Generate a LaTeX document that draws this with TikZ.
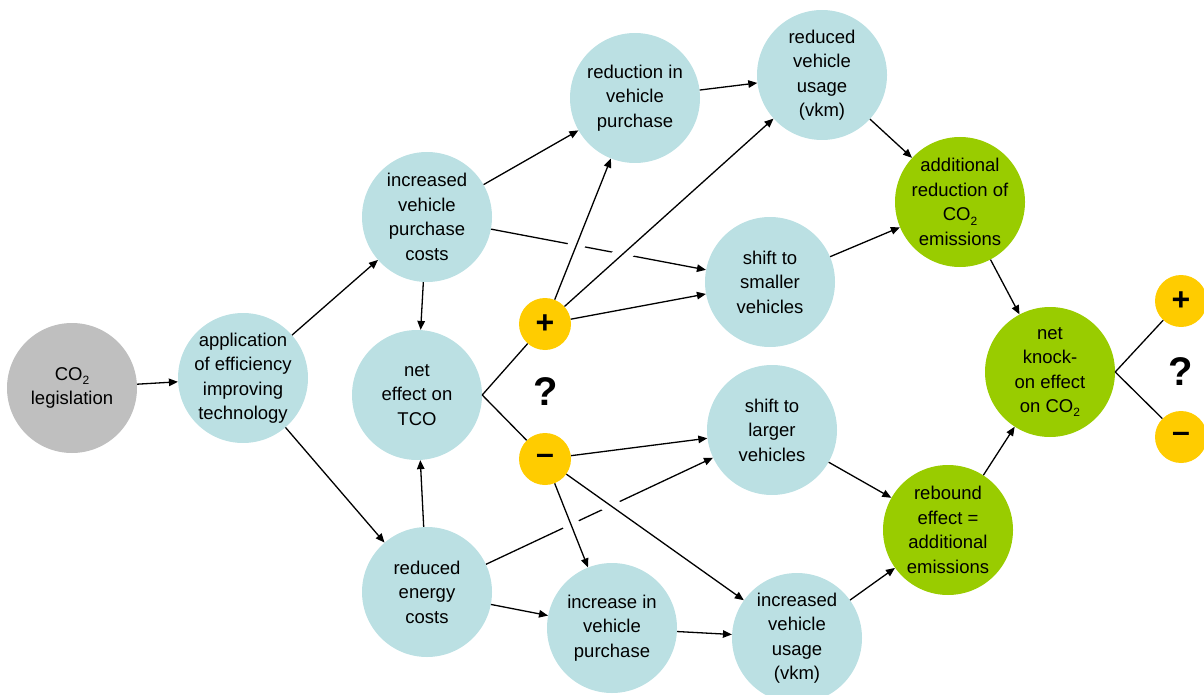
\documentclass[tikz,border=0pt]{standalone}
\usepackage{fontspec}
\setmainfont{Liberation Sans}
\usetikzlibrary{arrows.meta}
\definecolor{bubblue}{HTML}{BBE0E3}
\definecolor{bubgreen}{HTML}{99CC00}
\definecolor{bubgray}{HTML}{BFBFBF}
\definecolor{signyellow}{HTML}{FFCC00}
\newcommand{\cotwo}{CO\raisebox{-0.45ex}{\fontsize{12}{12}\selectfont 2}}
\begin{document}
\begin{tikzpicture}[x = 1pt, y = -1pt,
		bub/.style = {circle, minimum size = 130pt, inner sep = -20pt, align = center, font = \fontsize{18.5}{24.5}\selectfont},
		factor/.style = {bub, fill = bubblue},
		outcome/.style = {bub, fill = bubgreen},
		sign/.style = {circle, minimum size = 52pt, inner sep = 0pt, fill = signyellow, font = \fontsize{32}{32}\selectfont\bfseries},
		arr/.style = {-{Triangle[length = 9pt, width = 7.5pt]}, line width = 1.3pt},
		link/.style = {line width = 1.3pt},
		gap/.style = {white, line width = 17pt, shorten <= 14pt, shorten >= 14pt}
	]
	\useasboundingbox (0, 0) rectangle (1204, 695);
	\node[bub, fill = bubgray] (legis) at (72, 388) {\cotwo\\legislation};
	\node[factor] (tech) at (243, 378) {application\\of efficiency\\improving\\technology};
	\node[factor] (costs) at (427, 217) {increased\\vehicle\\purchase\\costs};
	\node[factor] (tco) at (417, 395) {net\\effect on\\TCO};
	\node[factor] (energy) at (427, 592) {reduced\\energy\\costs};
	\node[factor] (redpur) at (635, 98) {reduction in\\vehicle\\purchase};
	\node[factor] (redvkm) at (822, 75) {reduced\\vehicle\\usage\\(vkm)};
	\node[factor] (smaller) at (770, 282) {shift to\\smaller\\vehicles};
	\node[factor] (larger) at (772, 430) {shift to\\larger\\vehicles};
	\node[factor] (incpur) at (612, 628) {increase in\\vehicle\\purchase};
	\node[factor] (incvkm) at (797, 638) {increased\\vehicle\\usage\\(vkm)};
	\node[outcome] (addred) at (960, 202) {additional\\reduction of\\\cotwo\\emissions};
	\node[outcome] (netko) at (1050, 372) {net\\knock-\\on effect\\on \cotwo};
	\node[outcome] (rebound) at (948, 530) {rebound\\effect =\\additional\\emissions};
	\node[sign] (plus) at (545, 324) {+};
	\node[sign] (minus) at (545, 459) {--};
	\node[sign] (rplus) at (1181, 301) {+};
	\node[sign] (rminus) at (1181, 437) {--};
	\node[font = \fontsize{40}{40}\selectfont\bfseries] (quest) at (546, 392) {?};
	\node[font = \fontsize{40}{40}\selectfont\bfseries] (rquest) at (1181, 372) {?};
	\draw[arr] (costs) -- (smaller);
	\draw[arr] (energy) -- (larger);
	\draw[gap] (plus) -- (redpur);
	\draw[gap] (plus) -- (redvkm);
	\draw[gap] (minus) -- (incpur);
	\draw[gap] (minus) -- (incvkm);
	\draw[arr] (legis) -- (tech);
	\draw[arr] (tech) -- (costs);
	\draw[arr] (tech) -- (energy);
	\draw[arr] (costs) -- (tco);
	\draw[arr] (energy) -- (tco);
	\draw[arr] (costs) -- (redpur);
	\draw[arr] (energy) -- (incpur);
	\draw[link] (tco.east) -- (plus);
	\draw[link] (tco.east) -- (minus);
	\draw[arr] (plus) -- (redpur);
	\draw[arr] (plus) -- (redvkm);
	\draw[arr] (plus) -- (smaller);
	\draw[arr] (minus) -- (larger);
	\draw[arr] (minus) -- (incpur);
	\draw[arr] (minus) -- (incvkm);
	\draw[arr] (redpur) -- (redvkm);
	\draw[arr] (incpur) -- (incvkm);
	\draw[arr] (redvkm) -- (addred);
	\draw[arr] (smaller) -- (addred);
	\draw[arr] (larger) -- (rebound);
	\draw[arr] (incvkm) -- (rebound);
	\draw[arr] (addred) -- (netko);
	\draw[arr] (rebound) -- (netko);
	\draw[link] (netko.east) -- (rplus);
	\draw[link] (netko.east) -- (rminus);
\end{tikzpicture}
\end{document}
